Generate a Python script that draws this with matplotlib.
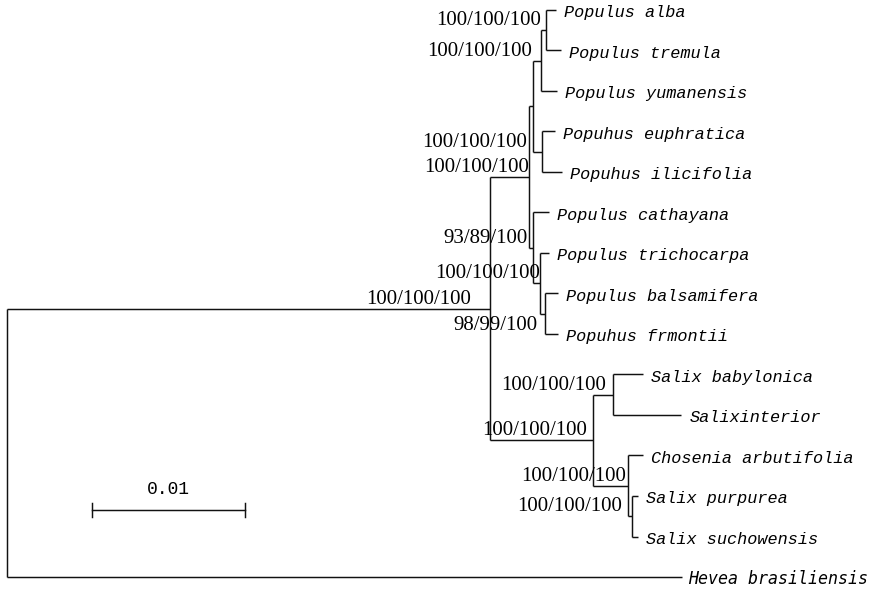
import matplotlib
matplotlib.use("Agg")
import matplotlib.pyplot as plt

# tips, top to bottom
tips = ["Populus alba", "Populus tremula", "Populus yumanensis",
        "Popuhus euphratica", "Popuhus ilicifolia", "Populus cathayana",
        "Populus trichocarpa", "Populus balsamifera", "Popuhus frmontii",
        "Salix babylonica", "Salixinterior", "Chosenia arbutifolia",
        "Salix purpurea", "Salix suchowensis", "Hevea brasiliensis"]

# edges of the tree: child, parent, branch length
child = ["n1", "Hevea brasiliensis",
         "n2", "n10",
         "n3", "n7",
         "n4", "n6",
         "n5", "Populus yumanensis",
         "Populus alba", "Populus tremula",
         "Popuhus euphratica", "Popuhus ilicifolia",
         "Populus cathayana", "n8",
         "Populus trichocarpa", "n9",
         "Populus balsamifera", "Popuhus frmontii",
         "n11", "n12",
         "Salix babylonica", "Salixinterior",
         "Chosenia arbutifolia", "n13",
         "Salix purpurea", "Salix suchowensis"]
parent = ["n0", "n0", "n1", "n1", "n2", "n2", "n3", "n3", "n4", "n4",
          "n5", "n5", "n6", "n6", "n7", "n7", "n8", "n8", "n9", "n9",
          "n10", "n10", "n11", "n11", "n12", "n12", "n13", "n13"]
length = [0.0316, 0.0441,
          0.00255, 0.00667,
          0.0002, 0.0002,
          0.00052, 0.00059,
          0.00039, 0.00111,
          0.00065, 0.00098,
          0.00085, 0.00131,
          0.00105, 0.00046,
          0.00059, 0.00033,
          0.00085, 0.00085,
          0.00137, 0.00235,
          0.0019, 0.00444,
          0.00092, 0.00026,
          0.00039, 0.00039]

# bootstrap / support values
support_node = ["n5", "n4", "n6", "n2", "n7", "n8", "n1", "n9",
                "n11", "n10", "n12", "n13"]
support = ["100/100/100", "100/100/100", "100/100/100", "100/100/100",
           "93/89/100", "100/100/100", "100/100/100", "98/99/100",
           "100/100/100", "100/100/100", "100/100/100", "100/100/100"]
below = ["n9"]

scale_len = 0.01
scale_label = "0.01"

# --- layout
W, H = 872, 589
unit = scale_len / 153.0       # tree units per pixel
tip_gap = 40.5                 # pixels between tips

xpos = {"n0": 0.0}
kids = {}
for c, p, l in zip(child, parent, length):
    xpos[c] = xpos[p] + l
    kids.setdefault(p, []).append(c)

ypos = {}
def get_y(n):
    if n in tips:
        ypos[n] = tips.index(n)
    else:
        ys = [get_y(k) for k in kids[n]]
        ypos[n] = (min(ys) + max(ys)) / 2
    return ypos[n]
get_y("n0")

fig = plt.figure(figsize=(W / 100, H / 100), dpi=100)
ax = fig.add_axes([0, 0, 1, 1])
ax.set_xlim(-7 * unit, (W - 7) * unit)
ax.set_ylim((H - 10) / tip_gap, -10 / tip_gap)
ax.axis("off")

lc = "#111111"
lw = 1.05
for p, ks in kids.items():
    ys = [ypos[k] for k in ks]
    ax.plot([xpos[p], xpos[p]], [min(ys), max(ys)], color=lc, lw=lw,
            solid_capstyle="butt")
for c, p in zip(child, parent):
    ax.plot([xpos[p], xpos[c]], [ypos[c], ypos[c]], color=lc, lw=lw,
            solid_capstyle="butt")

for t in tips:
    if t == "Hevea brasiliensis":
        ax.annotate(t, (xpos[t], ypos[t]), xytext=(6, -2),
                    textcoords="offset pixels", va="center", ha="left",
                    family="DejaVu Sans Mono", style="oblique", fontsize=12,
                    color="#000000")
    else:
        ax.annotate(t, (xpos[t], ypos[t]), xytext=(8, -3),
                    textcoords="offset pixels", va="center", ha="left",
                    family="Liberation Mono", style="italic", fontsize=12.2,
                    color="#000000")

# small sideways nudges (pixels) so labels sit as in the original layout
nudge = {"n5": -5, "n4": -8, "n6": -15, "n2": 0, "n7": -5, "n8": 0,
         "n1": -19, "n9": -7, "n11": -7, "n10": -5, "n12": -2, "n13": -10}
for n, s in zip(support_node, support):
    if n in below:
        off, va = (nudge[n], -2), "top"
    else:
        off, va = (nudge[n], 0), "bottom"
    ax.annotate(s, (xpos[n], ypos[n]), xytext=off, textcoords="offset pixels",
                ha="right", va=va, family="Liberation Serif", fontsize=15,
                color="#000000")

# scale bar
sx0 = (92 - 7) * unit
sy = (510 - 10) / tip_gap
tick = 7 / tip_gap
ax.plot([sx0, sx0 + scale_len], [sy, sy], color=lc, lw=lw)
ax.plot([sx0, sx0], [sy - tick, sy + tick], color=lc, lw=lw)
ax.plot([sx0 + scale_len, sx0 + scale_len], [sy - tick, sy + tick], color=lc, lw=lw)
ax.annotate(scale_label, (sx0 + scale_len / 2, sy), xytext=(0, 12),
            textcoords="offset pixels", ha="center", va="bottom",
            family="Liberation Mono", fontsize=13, color="#000000")

fig.savefig("out.png", dpi=100, facecolor="white")
